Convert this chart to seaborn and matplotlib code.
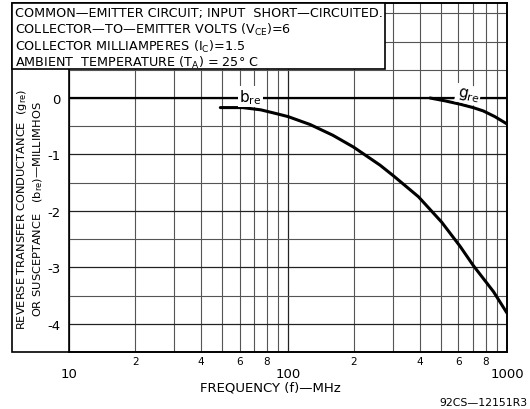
import numpy as np
import pandas as pd
import matplotlib
matplotlib.use("Agg")
import matplotlib.pyplot as plt
import seaborn as sns
from matplotlib.ticker import MultipleLocator
from matplotlib.patches import Rectangle

# ---- data ----
freq_b = [49, 62, 75, 89, 100, 126, 160, 199, 263, 303, 394, 503, 611, 702, 867, 1000]
b_re = [-0.17, -0.17, -0.21, -0.28, -0.33, -0.47, -0.66, -0.87, -1.19, -1.38,
        -1.75, -2.20, -2.63, -2.97, -3.43, -3.81]
freq_g = [445, 520, 611, 700, 780, 880, 1000]
g_re = [0.0, -0.05, -0.11, -0.17, -0.23, -0.33, -0.46]

ytick_values = [0, -1, -2, -3, -4]
ytick_labels = ["0", "-1", "-2", "-3", "-4"]
xtick_major = [10, 100, 1000]
xtick_major_labels = ["10", "100", "1000"]
minor_mult = [2, 3, 4, 5, 6, 7, 8, 9]
minor_mult_labels = ["2", "", "4", "", "6", "", "8", ""]

DASH = "\u2014"
header_lines = [
    "COMMON" + DASH + "EMITTER CIRCUIT; INPUT  SHORT" + DASH + "CIRCUITED.",
    "COLLECTOR" + DASH + "TO" + DASH + "EMITTER VOLTS (V$_{\\mathregular{CE}}$)=6",
    "COLLECTOR MILLIAMPERES (I$_{\\mathregular{C}}$)=1.5",
    "AMBIENT  TEMPERATURE (T$_{\\mathregular{A}}$) = 25° C",
]

sns.set_style("white")
plt.rcParams["font.family"] = ["DejaVu Sans"]
plt.rcParams["axes.unicode_minus"] = False
plt.rcParams["text.color"] = "black"
plt.rcParams["xtick.color"] = "black"
plt.rcParams["ytick.color"] = "black"
plt.rcParams["xtick.labelcolor"] = "black"
plt.rcParams["ytick.labelcolor"] = "black"

W, H = 530, 410
fig = plt.figure(figsize=(W / 100, H / 100), dpi=100)
ax_l, ax_r, ax_t, ax_b = 69.3, 507, 4, 353
ax = fig.add_axes([ax_l / W, 1 - ax_b / H, (ax_r - ax_l) / W, (ax_b - ax_t) / H])

df_b = pd.DataFrame({"freq": freq_b, "value": b_re})
df_g = pd.DataFrame({"freq": freq_g, "value": g_re})
sns.lineplot(data=df_b, x="freq", y="value", ax=ax, color="black", lw=2.2, zorder=5)
sns.lineplot(data=df_g, x="freq", y="value", ax=ax, color="black", lw=2.2, zorder=5)

ax.set_xscale("log")
ax.set_xlim(10, 1000)
ax.set_ylim(-4.5, 1.683)

minor_pos = [m * d for d in [10, 100] for m in minor_mult]
minor_lab = [l for d in [10, 100] for l in minor_mult_labels]
ax.set_xticks(xtick_major, xtick_major_labels)
ax.set_xticks(minor_pos, minor_lab, minor=True)
ax.set_yticks(ytick_values, ytick_labels)
ax.yaxis.set_minor_locator(MultipleLocator(0.5))

ax.tick_params(axis="x", which="major", length=7, width=1.2, pad=4, labelsize=9.5,
               direction="out", color="black")
ax.tick_params(axis="x", which="minor", length=0, pad=3, labelsize=7.5)
ax.tick_params(axis="y", which="both", length=0, pad=6, labelsize=9.5)

ax.grid(which="major", axis="both", color="#222222", lw=0.9)
ax.grid(which="minor", axis="both", color="#555555", lw=0.8)
ax.set_axisbelow(True)
for s in ax.spines.values():
    s.set_color("black")
    s.set_linewidth(1.2)

ax.axhline(0, color="black", lw=1.6, zorder=3)

ax.set_xlabel("")
ax.set_ylabel("")

ax.text(67, 0.03, "b$_{\\mathregular{re}}$", ha="center", va="center", fontsize=11,
        bbox=dict(fc="white", ec="none", pad=1.0), zorder=6)
ax.text(664, 0.06, "g$_{\\mathregular{re}}$", ha="center", va="center", fontsize=11,
        rotation=-12, bbox=dict(fc="white", ec="none", pad=1.0), zorder=6)

# outer frame
fig.add_artist(Rectangle((12 / W, 1 - ax_b / H), (ax_r - 12) / W, (ax_b - ax_t) / H,
                         transform=fig.transFigure, fill=False, ec="black", lw=1.2, zorder=8))
# header box
fig.add_artist(Rectangle((12 / W, 1 - 70 / H), (385 - 12) / W, (70 - ax_t) / H,
                         transform=fig.transFigure, fc="white", ec="black", lw=1.2, zorder=10))
for line, yy in zip(header_lines, [13.5, 30, 46.5, 62.5]):
    fig.text(15 / W, 1 - yy / H, line, ha="left", va="center", fontsize=9.2, zorder=11)

fig.text(30 / W, 1 - 209 / H,
         "REVERSE TRANSFER CONDUCTANCE  (g$_{\\mathregular{re}}$)\n"
         "OR SUSCEPTANCE   (b$_{\\mathregular{re}}$)" + DASH + "MILLIMHOS",
         rotation=90, ha="center", va="center", fontsize=8.2, multialignment="center",
         linespacing=1.2)

fig.text(270 / W, 1 - 388 / H, "FREQUENCY (f)" + DASH + "MHz", ha="center", va="center",
         fontsize=9.5)
fig.text(527 / W, 1 - 403 / H, "92CS" + DASH + "12151R3", ha="right", va="center", fontsize=7.8)

fig.savefig("out.png", dpi=100)
